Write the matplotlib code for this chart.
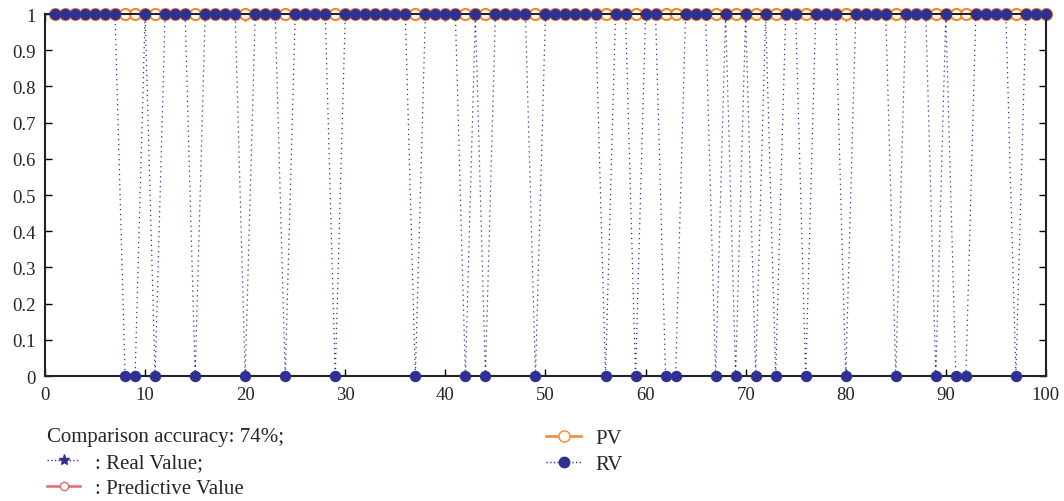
import numpy as np
import matplotlib
matplotlib.use('Agg')
import matplotlib.pyplot as plt
from matplotlib.lines import Line2D

plt.rcParams['font.family'] = ['Liberation Serif', 'DejaVu Serif']
plt.rcParams['text.color'] = '#262626'

samples = list(range(1, 101))
# sample numbers where the real value is 0
rv_zeros = [8, 9, 11, 15, 20, 24, 29, 37, 42, 44, 49, 56, 59, 62, 63, 67, 69, 71,
            73, 76, 80, 85, 89, 91, 92, 97]
pv_values = [1] * 100
rv_values = [0 if s in rv_zeros else 1 for s in samples]

orange = '#F7862A'
blue = '#2E3192'
red = '#E36B6B'

fig = plt.figure(figsize=(10.64, 5.02), dpi=100)
ax = fig.add_axes([0.0423, 0.249, 0.9407, 0.721])

ax.plot(samples, pv_values, color=orange, linewidth=1.2, marker='o', markersize=8,
        markerfacecolor='white', markeredgecolor=orange, markeredgewidth=1.5,
        zorder=2, clip_on=False)
ax.plot(samples, rv_values, color=blue, linewidth=0.9, linestyle=(0, (1, 3)), marker='o',
        markersize=7.2, markerfacecolor=blue, markeredgecolor=blue, zorder=3, clip_on=False)

ax.set_xlim(0, 100)
ax.set_ylim(0, 1)
ax.set_xticks(np.arange(0, 101, 10))
ax.set_yticks(np.arange(0, 1.01, 0.1))
ax.set_yticklabels(['0', '0.1', '0.2', '0.3', '0.4', '0.5', '0.6', '0.7', '0.8', '0.9', '1'])
ax.tick_params(direction='in', top=True, right=True, labelsize=13.5, length=5, width=1,
               labelcolor='#262626')
ax.tick_params(axis='x', pad=7)
ax.tick_params(axis='y', pad=7)
for sp in ax.spines.values():
    sp.set_linewidth(1.5)
    sp.set_color('#222222')

fig.text(0.0442, 0.1275, 'Comparison accuracy: 74%;', fontsize=15, va='center')

h_real = Line2D([], [], color=blue, linestyle=':', linewidth=1, marker='*',
                markersize=8, markerfacecolor=blue)
h_pred = Line2D([], [], color=red, linestyle='-', linewidth=1.8, marker='o',
                markersize=6, markerfacecolor='white', markeredgecolor=red)
leg1 = fig.legend([h_real, h_pred], [': Real Value;', ': Predictive Value'],
                  loc='upper left', bbox_to_anchor=(0.0442, 0.097), frameon=False,
                  fontsize=15, handlelength=1.6, labelspacing=0.33, borderpad=0,
                  borderaxespad=0, handletextpad=0.7)

h_pv = Line2D([], [], color=orange, linewidth=1.8, marker='o', markersize=8,
              markerfacecolor='white', markeredgecolor=orange)
h_rv = Line2D([], [], color=blue, linestyle=':', linewidth=1, marker='o',
              markersize=7.5, markerfacecolor=blue)
leg2 = fig.legend([h_pv, h_rv], ['PV', 'RV'], loc='upper left',
                  bbox_to_anchor=(0.513, 0.145), frameon=False, fontsize=15,
                  handlelength=1.7, labelspacing=0.33, borderpad=0,
                  borderaxespad=0, handletextpad=0.7)

fig.savefig('out.png', dpi=100)
plt.close(fig)
